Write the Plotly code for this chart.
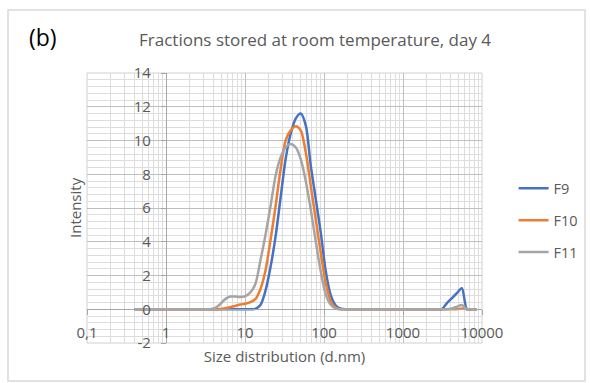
import plotly.graph_objects as go

# Size classes (d.nm)
size_nm = [0.4, 0.4632, 0.5365, 0.6213, 0.7195, 0.8332, 0.9649, 1.117, 1.294, 1.499,
           1.736, 2.01, 2.328, 2.696, 3.122, 3.615, 4.187, 4.849, 5.615, 6.503,
           7.531, 8.721, 10.1, 11.7, 13.54, 15.69, 18.17, 21.04, 24.36, 28.21,
           32.67, 37.84, 43.82, 50.75, 58.77, 68.06, 78.82, 91.28, 105.7, 122.4,
           141.8, 164.2, 190.1, 220.2, 255.0, 295.3, 342.0, 396.1, 458.7, 531.2,
           615.1, 712.4, 825.0, 955.4, 1106, 1281, 1484, 1718, 1990, 2305,
           2669, 3091, 3580, 4145, 4801, 5560, 6439, 7456, 8635]

f9 = [0]*24 + [0.02, 0.25, 1.1, 2.5, 4.3, 6.6, 8.9, 10.4, 11.3, 11.6,
               10.9, 8.5, 6.5, 4.5, 2.2, 0.8, 0.2, 0.03] + [0]*20 + \
     [0.35, 0.65, 0.95, 1.25, 0, 0, 0]

f10 = [0]*17 + [0.02, 0.06, 0.12, 0.2, 0.28, 0.33, 0.42, 0.6, 1.2, 2.3,
                4.1, 6.1, 8.3, 10.0, 10.6, 10.85, 10.6, 9.3, 7.3, 5.3,
                3.3, 1.5, 0.45, 0.08, 0] + [0]*23 + [0.05, 0, 0, 0]

f11 = [0]*16 + [0.08, 0.3, 0.6, 0.75, 0.75, 0.72, 0.78, 1.0, 1.5, 2.9,
                4.4, 6.1, 7.9, 9.0, 9.6, 9.8, 9.6, 8.9, 7.6, 5.9,
                4.0, 2.2, 0.85, 0.25, 0.04, 0] + [0]*21 + [0.05, 0.15, 0.25, 0, 0, 0]

series_names = ["F9", "F10", "F11"]
series_values = [f9, f10, f11]
series_colors = ["#4472C4", "#ED7D31", "#A5A5A5"]

x_tickvals = [0.1, 1, 10, 100, 1000, 10000]
x_ticktext = ["0,1", "1", "10", "100", "1000", "10000"]
x_minor = [m * 10 ** e for e in range(-1, 4) for m in range(2, 10)]
y_tickvals = [-2, 0, 2, 4, 6, 8, 10, 12, 14]
y_ticktext = ["-2", "0", "2", "4", "6", "8", "10", "12", "14"]

FONT = "Open Sans, sans-serif"
TXT = "#595959"

fig = go.Figure()
for name, vals, col in zip(series_names, series_values, series_colors):
    fig.add_trace(go.Scatter(
        x=size_nm, y=vals, name=name, mode="lines",
        line=dict(color=col, width=2.5, shape="spline", smoothing=0.8),
        legendgroup=name,
    ))

fig.update_layout(
    width=590, height=383,
    margin=dict(l=87, r=108, t=73, b=40, autoexpand=False),
    paper_bgcolor="white", plot_bgcolor="white",
    font=dict(family=FONT, size=14, color=TXT),
    title=dict(text="Fractions stored at room temperature, day 4",
               x=0.534, xref="container", xanchor="center",
               y=1 - 40 / 383, yref="container", yanchor="middle",
               font=dict(family=FONT, size=17, color=TXT)),
    showlegend=True,
    legend=dict(x=1.08, xanchor="left", y=0.632, yanchor="top",
                font=dict(family=FONT, size=14.5, color=TXT),
                tracegroupgap=10, bgcolor="rgba(0,0,0,0)"),
    xaxis=dict(type="log", range=[-1, 4], anchor="free", position=0.125,
               tickmode="array", tickvals=x_tickvals, ticktext=x_ticktext,
               showline=True, linecolor="#A6A6A6", linewidth=1.3,
               ticks="outside", ticklen=5, tickcolor="#A6A6A6",
               ticklabelstandoff=5,
               showgrid=True, gridcolor="#BFBFBF", gridwidth=1,
               zeroline=False,
               minor=dict(tickmode="array", tickvals=x_minor, showgrid=True,
                          gridcolor="#DDDDDD", gridwidth=1, ticks=""),
               tickfont=dict(family=FONT, size=15, color=TXT),
               title=dict(text="Size distribution (d.nm)", standoff=10,
                          font=dict(family=FONT, size=15, color=TXT))),
    yaxis=dict(range=[-2, 14], anchor="free", position=0.2,
               tickmode="array", tickvals=y_tickvals, ticktext=y_ticktext,
               showline=True, linecolor="#A6A6A6", linewidth=1.3,
               ticks="outside", ticklen=5, tickcolor="#A6A6A6",
               ticklabelstandoff=7,
               showgrid=True, gridcolor="#BFBFBF", gridwidth=1,
               zeroline=False,
               minor=dict(dtick=0.4, tick0=0, showgrid=True,
                          gridcolor="#DDDDDD", gridwidth=1, ticks=""),
               tickfont=dict(family=FONT, size=15, color=TXT)),
    annotations=[
        dict(text="(b)", xref="paper", yref="paper",
             x=(43 - 87) / 395, y=(343 - 37) / 270, xanchor="center", yanchor="middle",
             showarrow=False, font=dict(family=FONT, size=23, color="black")),
        dict(text="Intensity", xref="paper", yref="paper",
             x=(75 - 87) / 395, y=(343 - 208) / 270, xanchor="center", yanchor="middle",
             textangle=-90, showarrow=False, font=dict(family=FONT, size=15, color=TXT)),
    ],
    shapes=[
        dict(type="rect", xref="paper", yref="paper", x0=0, x1=1, y0=0, y1=1,
             line=dict(color="#D0D0D0", width=1), layer="below"),
        dict(type="rect", xref="paper", yref="paper",
             x0=(8 - 87) / 395, x1=(585 - 87) / 395,
             y0=(343 - 381) / 270, y1=(343 - 10) / 270,
             line=dict(color="#D9D9D9", width=1.5), layer="below"),
    ],
)

fig.write_html("out.html")
